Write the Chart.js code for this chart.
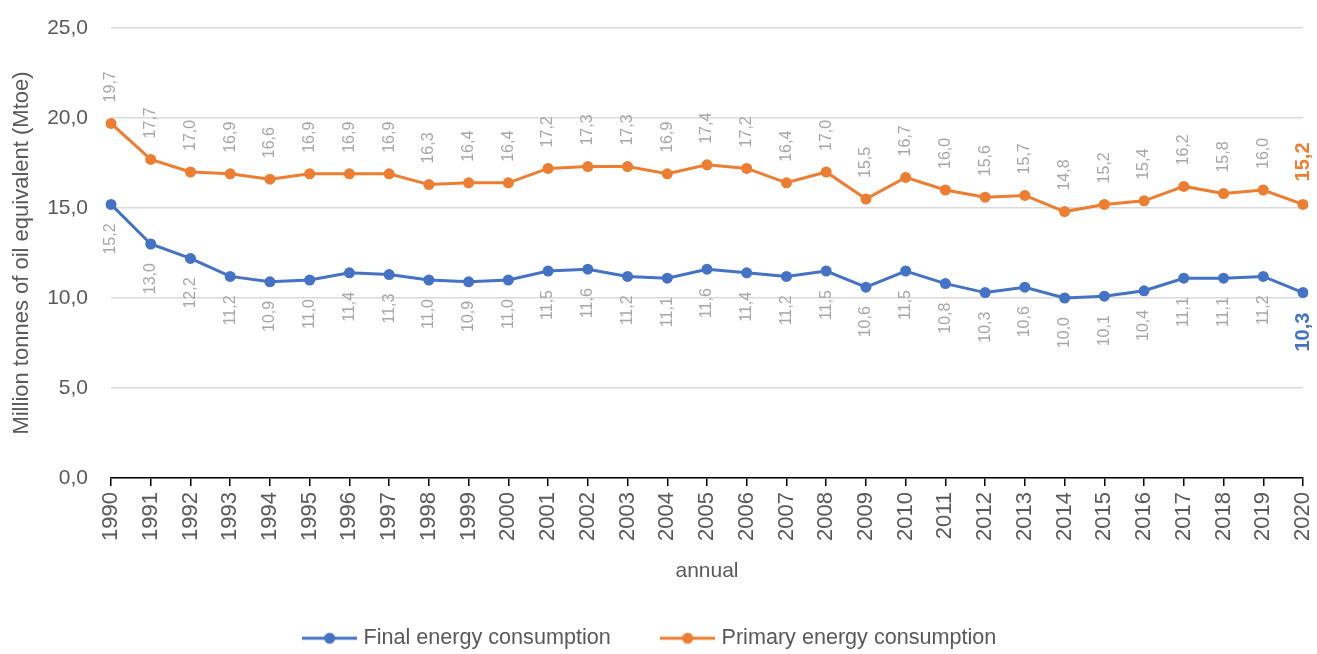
<!DOCTYPE html>
<html>
<head>
<meta charset="utf-8">
<script src="https://cdn.jsdelivr.net/npm/chart.js@4/dist/chart.umd.min.js"></script>
<style>
  html, body { margin: 0; padding: 0; background: #fff; }
  #wrap { width: 1317px; height: 654px; }
</style>
</head>
<body>
<div id="wrap"><canvas id="chart" width="1317" height="654"></canvas></div>
<script>
// data
const years = ['1990','1991','1992','1993','1994','1995','1996','1997','1998','1999',
  '2000','2001','2002','2003','2004','2005','2006','2007','2008','2009',
  '2010','2011','2012','2013','2014','2015','2016','2017','2018','2019','2020'];
const finalEnergy = [15.2, 13.0, 12.2, 11.2, 10.9, 11.0, 11.4, 11.3, 11.0, 10.9,
  11.0, 11.5, 11.6, 11.2, 11.1, 11.6, 11.4, 11.2, 11.5, 10.6,
  11.5, 10.8, 10.3, 10.6, 10.0, 10.1, 10.4, 11.1, 11.1, 11.2, 10.3];
const primaryEnergy = [19.7, 17.7, 17.0, 16.9, 16.6, 16.9, 16.9, 16.9, 16.3, 16.4,
  16.4, 17.2, 17.3, 17.3, 16.9, 17.4, 17.2, 16.4, 17.0, 15.5,
  16.7, 16.0, 15.6, 15.7, 14.8, 15.2, 15.4, 16.2, 15.8, 16.0, 15.2];
const yTicks = [0, 5, 10, 15, 20, 25];

const BLUE = '#4472C4';
const ORANGE = '#ED7D31';
const FONT = "'Liberation Sans', Arial, sans-serif";
const fmt = v => v.toFixed(1).replace('.', ',');

// little line+dot image for the legend
function legendMark(color) {
  const c = document.createElement('canvas');
  c.width = 55; c.height = 14;
  const g = c.getContext('2d');
  g.strokeStyle = color; g.lineWidth = 3;
  g.beginPath(); g.moveTo(0, 7); g.lineTo(55, 7); g.stroke();
  g.fillStyle = color;
  g.beginPath(); g.arc(27.5, 7, 5.5, 0, Math.PI * 2); g.fill();
  return c;
}

// rotated value labels, orange above, blue below
const valueLabels = {
  id: 'valueLabels',
  afterDatasetsDraw(chart) {
    const ctx = chart.ctx;
    chart.data.datasets.forEach((ds, di) => {
      const meta = chart.getDatasetMeta(di);
      const above = ds.labelSide === 'above';
      meta.data.forEach((pt, i) => {
        const last = i === meta.data.length - 1;
        ctx.save();
        ctx.font = last ? 'bold 20px ' + FONT : '16px ' + FONT;
        ctx.fillStyle = last ? ds.borderColor : '#a6a6a6';
        ctx.textBaseline = 'middle';
        const gap = above ? (last ? 23 : 21) : (last ? 20 : 19);
        ctx.translate(pt.x, above ? pt.y - gap : pt.y + gap);
        ctx.rotate(-Math.PI / 2);
        ctx.textAlign = above ? 'left' : 'right';
        ctx.fillText(fmt(ds.data[i]), 0, 0);
        ctx.restore();
      });
    });
  }
};

const chart = new Chart(document.getElementById('chart').getContext('2d'), {
  type: 'line',
  data: {
    labels: years,
    datasets: [{
      label: 'Final energy consumption',
      data: finalEnergy,
      borderColor: BLUE,
      backgroundColor: BLUE,
      borderWidth: 3,
      pointRadius: 5.5,
      pointBorderWidth: 0,
      labelSide: 'below',
      tension: 0
    }, {
      label: 'Primary energy consumption',
      data: primaryEnergy,
      borderColor: ORANGE,
      backgroundColor: ORANGE,
      borderWidth: 3,
      pointRadius: 5.5,
      pointBorderWidth: 0,
      labelSide: 'above',
      tension: 0
    }]
  },
  options: {
    responsive: false,
    animation: false,
    layout: { padding: { top: 28, left: 0, right: 14, bottom: -5 } },
    plugins: {
      tooltip: { enabled: false },
      legend: {
        position: 'bottom',
        labels: {
          usePointStyle: true,
          pointStyleWidth: 46,
          padding: 54,
          color: '#595959',
          font: { family: FONT, size: 21.6 },
          generateLabels(ch) {
            const items = Chart.defaults.plugins.legend.labels.generateLabels(ch);
            items.forEach((it, k) => { it.pointStyle = legendMark(k === 0 ? BLUE : ORANGE); });
            return items;
          }
        }
      }
    },
    scales: {
      x: {
        offset: false,
        grid: { display: true, drawOnChartArea: false, drawTicks: true, tickLength: 8, color: '#000', lineWidth: 1.5 },
        border: { display: true, color: '#000', width: 1.5 },
        ticks: {
          color: '#595959',
          font: { family: FONT, size: 22 },
          minRotation: 90, maxRotation: 90,
          autoSkip: false,
          padding: 6
        },
        title: {
          display: true, text: 'annual', color: '#595959',
          font: { family: FONT, size: 21 },
          padding: { top: 0, bottom: -10 }
        },
        afterFit(s) { s.height = 95.4; s.paddingLeft = 0; s.paddingRight = 0; }
      },
      y: {
        min: 0, max: 25,
        afterBuildTicks(s) { s.ticks = yTicks.map(v => ({ value: v })); },
        grid: { color: '#d9d9d9', lineWidth: 1.5, drawTicks: false },
        border: { display: false },
        ticks: {
          color: '#595959',
          font: { family: FONT, size: 21 },
          padding: 23,
          callback: v => fmt(v)
        },
        title: {
          display: true, text: 'Million tonnes of oil equivalent (Mtoe)', color: '#595959',
          font: { family: FONT, size: 22 },
          padding: { top: 9, bottom: 0 }
        },
        afterFit(s) { s.width = 111; s.paddingTop = 0; s.paddingBottom = 0; }
      }
    }
  },
  plugins: [valueLabels]
});
</script>
</body>
</html>
